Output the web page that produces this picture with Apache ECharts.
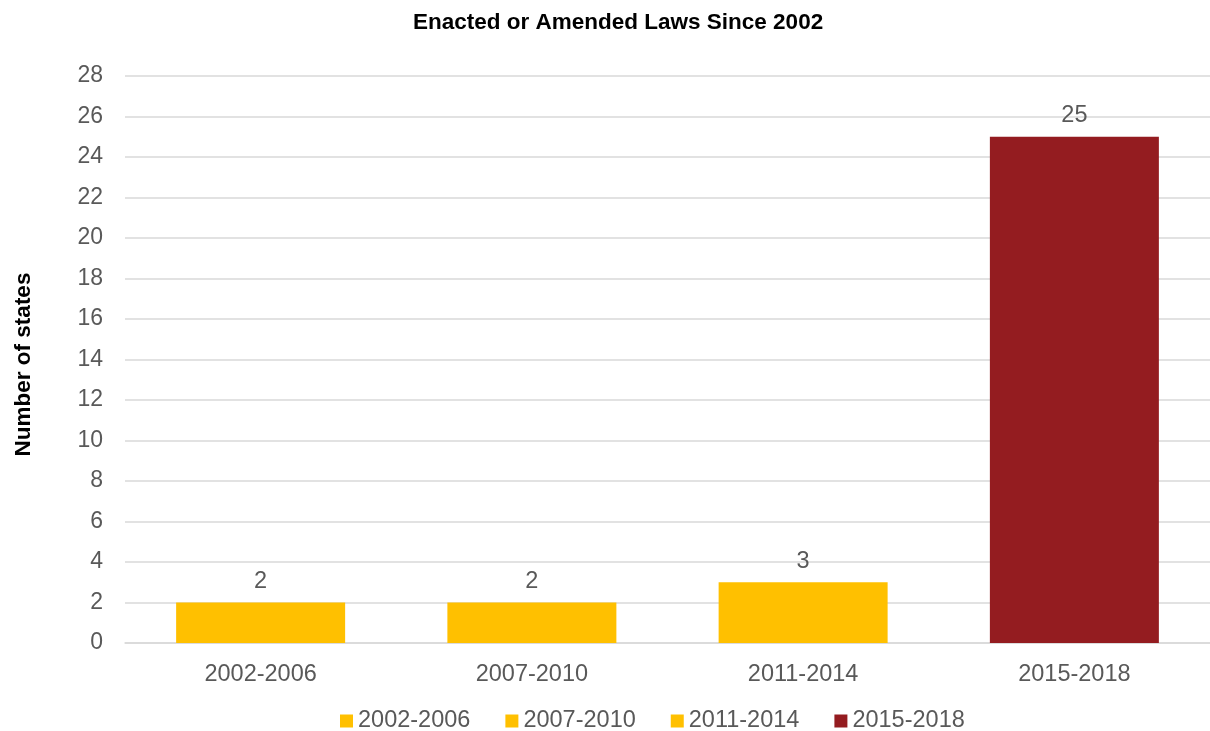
<!DOCTYPE html>
<html><head><meta charset="utf-8">
<script src="https://cdn.jsdelivr.net/npm/echarts@6/dist/echarts.min.js"></script>
<style>html,body{margin:0;padding:0;background:#fff}#c{width:1210px;height:731px}</style>
</head><body><div id="c"></div>
<script>
const categories = ['2002-2006', '2007-2010', '2011-2014', '2015-2018'];
const values = [2, 2, 3, 25];
const colors = ['#FFC000', '#FFC000', '#FFC000', '#941C20'];
const yTicks = [0, 28, 2];

const chart = echarts.init(document.getElementById('c'));
const series = categories.map((name, i) => ({
  name: name,
  type: 'bar',
  stack: 'all',
  barWidth: 169,
  itemStyle: { color: colors[i] },
  data: categories.map((c, j) => j === i ? values[i] : null),
  label: { show: true, position: 'top', distance: 9, color: '#595959', fontSize: 23.5, fontFamily: 'Liberation Sans' }
}));
chart.setOption({
  animation: false,
  textStyle: { fontFamily: 'Liberation Sans' },
  title: { text: 'Enacted or Amended Laws Since 2002', left: 408, top: 6,
    textStyle: { fontSize: 22.5, fontWeight: 'bold', color: '#000', fontFamily: 'Liberation Sans' } },
  grid: { left: 125, right: 0, top: 76, bottom: 88 },
  legend: { top: 704, left: 335, itemWidth: 13, itemHeight: 13, itemGap: 35, icon: 'rect',
    textStyle: { fontSize: 23.5, color: '#595959', fontFamily: 'Liberation Sans' } },
  xAxis: { type: 'category', data: categories,
    axisLine: { lineStyle: { color: '#d9d9d9', width: 1.5 } }, axisTick: { show: false },
    axisLabel: { fontSize: 23.5, color: '#595959', margin: 20 } },
  yAxis: { type: 'value', min: yTicks[0], max: yTicks[1], interval: yTicks[2],
    name: 'Number of states', nameLocation: 'middle', nameGap: 90,
    nameTextStyle: { fontSize: 22.5, fontWeight: 'bold', color: '#000', padding: [0, 10, 0, 0] },
    axisLabel: { fontSize: 23, color: '#595959', margin: 22 },
    splitLine: { lineStyle: { color: '#d9d9d9', width: 1.5 } } },
  series: series
});
</script></body></html>
